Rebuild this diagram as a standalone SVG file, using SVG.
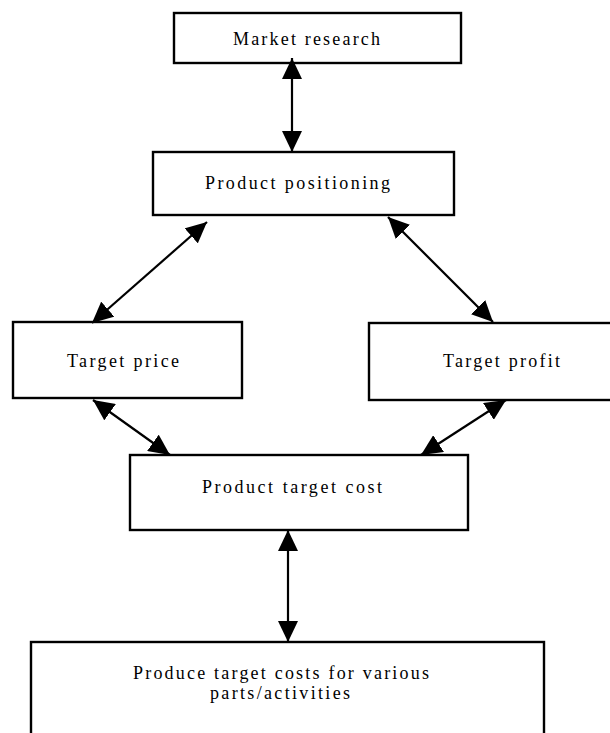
<svg xmlns="http://www.w3.org/2000/svg" width="610" height="733" viewBox="0 0 610 733">
<defs>
<marker id="ah" markerUnits="userSpaceOnUse" markerWidth="22" markerHeight="20" refX="21" refY="10" orient="auto-start-reverse" viewBox="0 0 22 20">
<path d="M0,0 L21,10 L0,20 z" fill="#000"/>
</marker>
<style>
.box{fill:#fff;stroke:#000;stroke-width:2.4}
.lbl{font-family:"Liberation Serif","DejaVu Serif",serif;font-size:18px;fill:#000}
.con{stroke:#000;stroke-width:2.2;fill:none;marker-start:url(#ah);marker-end:url(#ah)}
</style>
</defs>
<rect width="610" height="733" fill="#fff"/>
<g id="market-research">
<rect class="box" x="174" y="13" width="287" height="50"/>
<text class="lbl" x="233" y="45" textLength="147" lengthAdjust="spacing">Market research</text>
</g>
<g id="product-positioning">
<rect class="box" x="153" y="152" width="301" height="63"/>
<text class="lbl" x="205" y="189" textLength="185" lengthAdjust="spacing">Product positioning</text>
</g>
<g id="target-price">
<rect class="box" x="13" y="322" width="229" height="76"/>
<text class="lbl" x="67" y="367" textLength="112" lengthAdjust="spacing">Target price</text>
</g>
<g id="target-profit">
<rect class="box" x="369" y="323" width="250" height="77"/>
<text class="lbl" x="443" y="367" textLength="117" lengthAdjust="spacing">Target profit</text>
</g>
<g id="product-target-cost">
<rect class="box" x="130" y="455" width="338" height="75"/>
<text class="lbl" x="202" y="493" textLength="180" lengthAdjust="spacing">Product target cost</text>
</g>
<g id="various-parts">
<rect class="box" x="31" y="642" width="513" height="100"/>
<text class="lbl" x="133" y="679" textLength="296" lengthAdjust="spacing">Produce target costs for various</text>
<text class="lbl" x="210" y="699" textLength="140" lengthAdjust="spacing">parts/activities</text>
</g>
<g id="connectors">
<line class="con" x1="292" y1="58" x2="292" y2="152"/>
<line class="con" x1="207" y1="222" x2="92" y2="323"/>
<line class="con" x1="388" y1="217" x2="493" y2="322"/>
<line class="con" x1="93" y1="400" x2="170" y2="455"/>
<line class="con" x1="506" y1="400" x2="421" y2="455"/>
<line class="con" x1="288" y1="530" x2="288" y2="642"/>
</g>
</svg>
